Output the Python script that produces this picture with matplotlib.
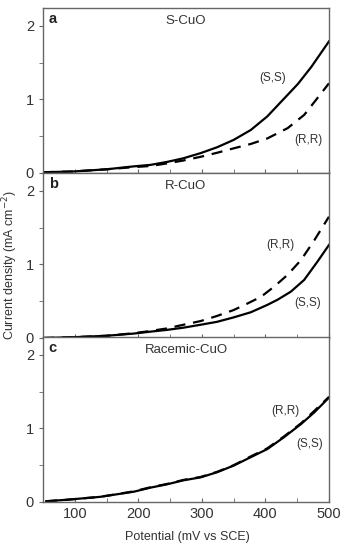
import matplotlib
matplotlib.use("Agg")
import matplotlib.pyplot as plt
import matplotlib.ticker as mticker

plt.rcParams['font.family'] = ['Liberation Sans', 'DejaVu Sans']

# potential (mV vs SCE) and current density (mA cm-2)
a_ss_x = [50, 97, 150, 193, 219, 245, 271, 298, 324, 350, 377, 403, 427, 451, 472, 500]
a_ss_y = [0.01, 0.02, 0.05, 0.09, 0.11, 0.15, 0.20, 0.27, 0.35, 0.45, 0.585, 0.77, 0.99, 1.21, 1.44, 1.79]
a_rr_x = [50, 97, 150, 193, 219, 245, 271, 298, 324, 350, 377, 403, 435, 461, 482, 500]
a_rr_y = [0.01, 0.02, 0.05, 0.08, 0.095, 0.13, 0.17, 0.22, 0.275, 0.335, 0.395, 0.47, 0.61, 0.79, 1.02, 1.22]

b_ss_x = [50, 97, 150, 193, 219, 245, 271, 298, 324, 350, 377, 403, 419, 440, 461, 482, 500]
b_ss_y = [0.0, 0.01, 0.03, 0.06, 0.086, 0.11, 0.14, 0.18, 0.22, 0.28, 0.35, 0.45, 0.52, 0.63, 0.79, 1.04, 1.265]
b_rr_x = [50, 97, 150, 193, 219, 245, 271, 298, 324, 350, 372, 393, 414, 435, 456, 477, 500]
b_rr_y = [0.0, 0.01, 0.03, 0.065, 0.095, 0.13, 0.18, 0.23, 0.30, 0.38, 0.47, 0.56, 0.70, 0.86, 1.06, 1.33, 1.65]

c_rr_x = [55, 87, 140, 193, 219, 245, 271, 298, 324, 350, 377, 403, 429, 456, 477, 500]
c_rr_y = [0.01, 0.03, 0.07, 0.145, 0.20, 0.245, 0.30, 0.34, 0.41, 0.50, 0.62, 0.73, 0.89, 1.07, 1.24, 1.43]
c_ss_x = [55, 87, 140, 193, 219, 245, 271, 298, 324, 350, 377, 403, 429, 456, 477, 500]
c_ss_y = [0.01, 0.03, 0.07, 0.14, 0.195, 0.24, 0.295, 0.335, 0.405, 0.495, 0.61, 0.72, 0.88, 1.06, 1.22, 1.42]

panels = [
    ("a", "S-CuO", a_ss_x, a_ss_y, a_rr_x, a_rr_y,
     [(411, 1.29, "(S,S)"), (467, 0.45, "(R,R)")]),
    ("b", "R-CuO", b_ss_x, b_ss_y, b_rr_x, b_rr_y,
     [(423, 1.27, "(R,R)"), (467, 0.48, "(S,S)")]),
    ("c", "Racemic-CuO", c_ss_x, c_ss_y, c_rr_x, c_rr_y,
     [(431, 1.24, "(R,R)"), (469, 0.79, "(S,S)")]),
]

txt = "#333333"
spine = "#666666"

fig = plt.figure(figsize=(3.4, 5.5), dpi=100)
bottoms = [0.6855, 0.3855, 0.0873]
for (letter, title, sx, sy, rx, ry, notes), b in zip(panels, bottoms):
    ax = fig.add_axes([0.1265, b, 0.841, 0.3])
    ax.plot(sx, sy, color="black", lw=1.6)
    ax.plot(rx, ry, color="black", lw=1.6, dashes=(5, 3.5))
    ax.set_xlim(50, 500)
    ax.set_ylim(0, 2.245)
    ax.xaxis.set_major_locator(mticker.MultipleLocator(100))
    ax.xaxis.set_minor_locator(mticker.MultipleLocator(50))
    ax.yaxis.set_major_locator(mticker.MultipleLocator(1))
    ax.yaxis.set_minor_locator(mticker.MultipleLocator(0.5))
    ax.tick_params(axis="x", which="both", direction="in", colors=spine,
                   labelcolor=txt, labelsize=10.5, length=3)
    ax.tick_params(axis="y", which="both", direction="out", colors=spine,
                   labelcolor=txt, labelsize=10.5, length=3)
    for s in ax.spines.values():
        s.set_color(spine)
        s.set_linewidth(1.0)
    if letter != "c":
        ax.tick_params(axis="x", labelbottom=False)
    ax.text(0.02, 0.935, letter, transform=ax.transAxes, fontsize=10.5,
            fontweight="bold", color="#222222", va="center", ha="left")
    ax.text(0.5, 0.92, title, transform=ax.transAxes, fontsize=9.5,
            color=txt, va="center", ha="center")
    for x, y, s in notes:
        ax.text(x, y, s, fontsize=8.5, color=txt, ha="center", va="center")

fig.text(0.03, 0.518, "Current density (mA cm$^{-2}$)", rotation=90,
         fontsize=9, color=txt, ha="center", va="center")
fig.text(0.55, 0.024, "Potential (mV vs SCE)", fontsize=9, color=txt,
         ha="center", va="center")

fig.savefig("out.png", dpi=100)
